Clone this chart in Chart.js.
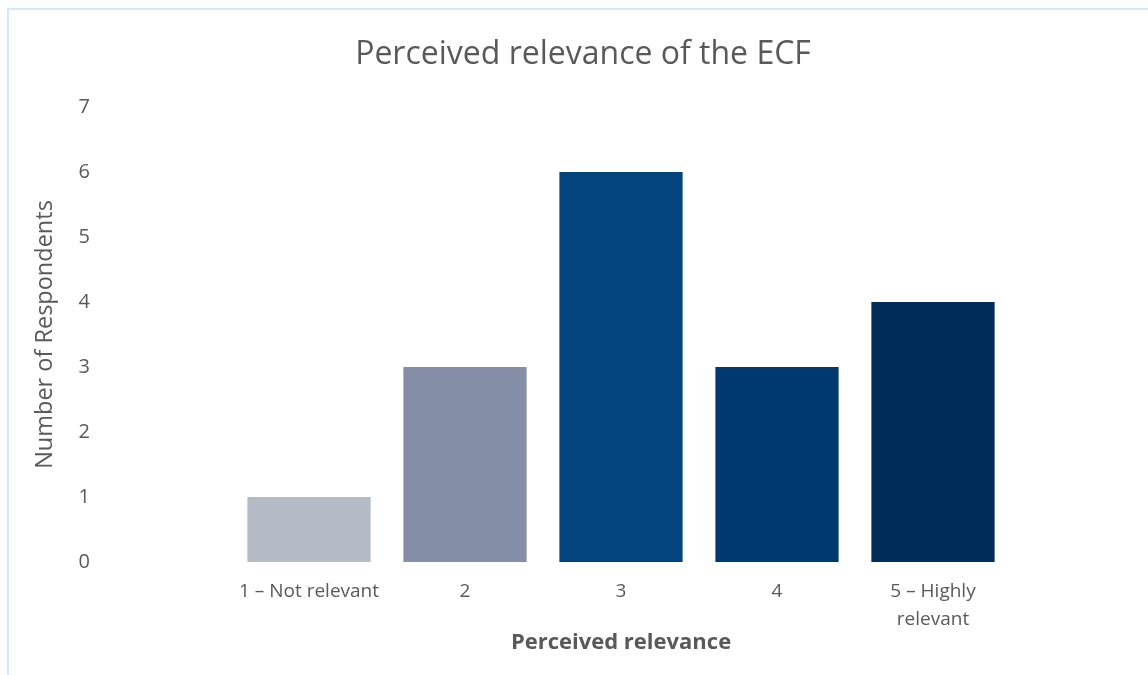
<!DOCTYPE html>
<html>
<head>
<meta charset="utf-8">
<script src="https://cdn.jsdelivr.net/npm/chart.js@4"></script>
<style>
  html, body { margin: 0; padding: 0; background: #fff; }
  #wrap { position: relative; width: 1148px; height: 675px; overflow: hidden; }
  #frame { position: absolute; left: 7px; top: 8px; width: 1200px; height: 700px;
           border-left: 2px solid #d3e8f8; border-top: 2px solid #d3e8f8; box-sizing: border-box; }
  canvas { position: absolute; left: 0; top: 0; }
</style>
</head>
<body>
<div id="wrap">
  <div id="frame"></div>
  <canvas id="relevanceChart" width="1148" height="675"></canvas>
</div>
<script>
// survey answers, one bar per rating
const categories = [["1 – Not relevant"], ["2"], ["3"], ["4"], ["5 – Highly", "relevant"]];
const respondents = [1, 3, 6, 3, 4];
const barColors = ["#b4bbc7", "#858ea7", "#03447e", "#003870", "#002c59"];
const yTicks = [0, 1, 2, 3, 4, 5, 6, 7];

const textColor = "#595959";
const fontFamily = "'Open Sans', sans-serif";

// title drawn straight on the canvas so it can sit a bit right of centre
const titlePlugin = {
  id: "chartTitle",
  afterDraw(chart) {
    const ctx = chart.ctx;
    ctx.save();
    ctx.fillStyle = textColor;
    ctx.font = "32px " + fontFamily;
    ctx.textAlign = "center";
    ctx.textBaseline = "middle";
    ctx.fillText("Perceived relevance of the ECF", 583, 55);
    ctx.restore();
  }
};

new Chart(document.getElementById("relevanceChart"), {
  type: "bar",
  data: {
    labels: categories,
    datasets: [{
      label: "Respondents",
      data: respondents,
      backgroundColor: barColors,
      borderWidth: 0,
      barPercentage: 0.79,
      categoryPercentage: 1
    }]
  },
  options: {
    responsive: false,
    animation: false,
    layout: { padding: { left: 27, right: 137, top: 107, bottom: 10 } },
    plugins: {
      legend: { display: false },
      tooltip: { enabled: false },
      title: { display: false }
    },
    scales: {
      x: {
        grid: { display: false, drawTicks: false },
        border: { display: false },
        ticks: {
          color: textColor,
          padding: 15,
          maxRotation: 0,
          font: { family: fontFamily, size: 19, lineHeight: 1.5 }
        },
        title: {
          display: true,
          text: "Perceived relevance",
          color: textColor,
          font: { family: fontFamily, size: 22, weight: "bold", lineHeight: 1.2 },
          padding: { top: 0, bottom: 9 }
        },
        afterFit: scale => { scale.height = 675 - 10 - 562; }
      },
      y: {
        min: 0,
        max: 7,
        grid: { display: false, drawTicks: false },
        border: { display: false },
        afterBuildTicks: scale => { scale.ticks = yTicks.map(v => ({ value: v })); },
        ticks: {
          color: textColor,
          padding: 141,
          font: { family: fontFamily, size: 20 }
        },
        title: {
          display: true,
          text: "Number of Respondents",
          color: textColor,
          font: { family: fontFamily, size: 23.5, lineHeight: 1.2 },
          padding: { top: 4, bottom: 4 }
        },
        // the wide label gap must not push the plot down
        afterFit: scale => {
          scale.width = 231 - 27;
          scale.paddingTop = 0;
          scale.paddingBottom = 0;
        }
      }
    }
  },
  plugins: [titlePlugin]
});
</script>
</body>
</html>
